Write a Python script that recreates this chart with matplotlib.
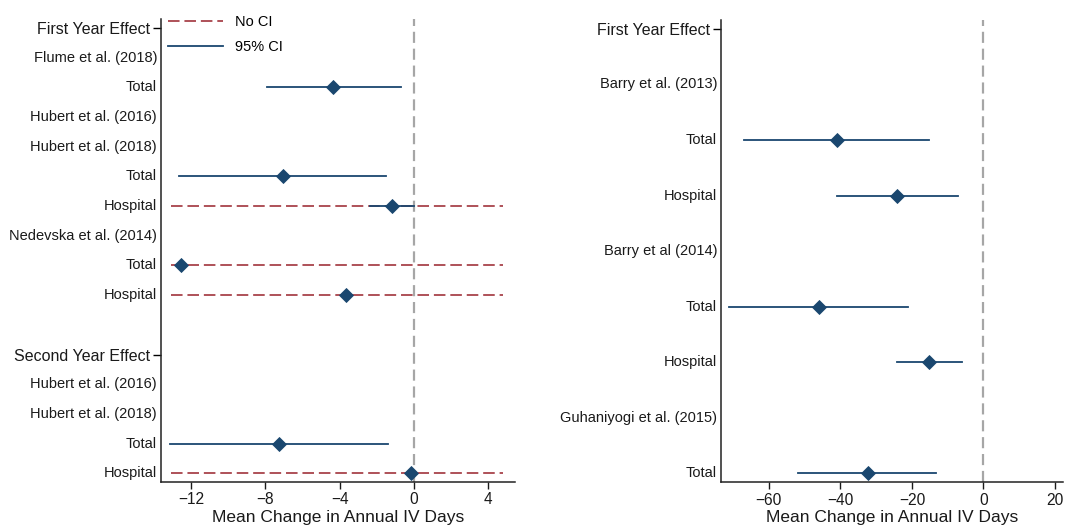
import numpy as np
import matplotlib
matplotlib.use("Agg")
import matplotlib.pyplot as plt
from matplotlib.lines import Line2D
import matplotlib.transforms as mtransforms

plt.rcParams['font.family'] = ['Liberation Sans', 'DejaVu Sans']

nan = np.nan

# ---- Left panel: short follow-up studies ----
left_labels = ["First Year Effect", "Flume et al. (2018)", "Total",
               "Hubert et al. (2016)", "Hubert et al. (2018)", "Total", "Hospital",
               "Nedevska et al. (2014)", "Total", "Hospital", "",
               "Second Year Effect", "Hubert et al. (2016)", "Hubert et al. (2018)",
               "Total", "Hospital"]
left_headers = [0, 11]
left_est = [nan, nan, -4.35, nan, nan, -7.07, -1.18, nan, -12.57, -3.66,
            nan, nan, nan, nan, -7.25, -0.18]
left_lo = [nan, nan, -7.93, nan, nan, -12.64, -2.37, nan, nan, nan,
           nan, nan, nan, nan, -13.14, nan]
left_hi = [nan, nan, -0.70, nan, nan, -1.51, 0.0, nan, nan, nan,
           nan, nan, nan, nan, -1.38, nan]
left_noci = [False, False, False, False, False, False, True, False, True, True,
             False, False, False, False, False, True]
left_noci_span = (-13.1, 4.8)
left_xticks = [-12, -8, -4, 0, 4]

# ---- Right panel: longer follow-up studies ----
right_labels = ["First Year Effect", "Barry et al. (2013)", "Total", "Hospital",
                "Barry et al (2014)", "Total", "Hospital",
                "Guhaniyogi et al. (2015)", "Total"]
right_headers = [0]
right_est = [nan, nan, -41.0, -24.1, nan, -45.9, -15.1, nan, -32.3]
right_lo = [nan, nan, -66.8, -40.9, nan, -71.0, -24.1, nan, -51.7]
right_hi = [nan, nan, -15.1, -7.0, nan, -21.0, -6.1, nan, -13.3]
right_noci = [False] * 9
right_xticks = [-60, -40, -20, 0, 20]

NAVY = "#1a476f"
CRAN = "#a8434b"
REF = "#a6a6a6"
TXT = "#1a1a1a"
NOCI_DASH = (0, (6.4, 2.7))

fig = plt.figure(figsize=(10.67, 5.25), dpi=100)
W, H = 1067, 525


def make_axes(left_px, right_px, top_px, bottom_px):
    return fig.add_axes([left_px / W, 1 - bottom_px / H,
                         (right_px - left_px) / W, (bottom_px - top_px) / H])


def draw_panel(ax, labels, headers, est, lo, hi, noci, xlim, ylim, xticks,
               noci_span=None):
    n = len(labels)
    y = np.arange(n)
    ax.axvline(0, color=REF, lw=1.6, ls=(0, (5.0, 2.6)), zorder=1)
    for i in range(n):
        if noci[i] and noci_span is not None:
            ax.plot(noci_span, [y[i], y[i]], color=CRAN, lw=1.3,
                    ls=NOCI_DASH, zorder=2)
        if not np.isnan(lo[i]):
            ax.plot([lo[i], hi[i]], [y[i], y[i]], color=NAVY, lw=1.3, zorder=3)
        if not np.isnan(est[i]):
            ax.plot(est[i], y[i], marker="D", ms=7, color=NAVY, mec=NAVY,
                    mew=0.6, zorder=4, ls="none")
    ax.set_xlim(*xlim)
    ax.set_ylim(*ylim)
    ax.set_xticks(xticks)
    ax.tick_params(axis="x", labelsize=11.2, length=5, width=1, colors=TXT,
                   pad=2.5)
    ax.set_xlabel("Mean Change in Annual IV Days", fontsize=12.5, color=TXT,
                  labelpad=2)
    # headers carry a tick mark, other rows are plain labels
    ax.set_yticks([y[i] for i in headers])
    ax.set_yticklabels([labels[i] for i in headers], fontsize=11.5, color=TXT)
    ax.tick_params(axis="y", length=6, width=1, pad=1.5)
    trans = mtransforms.blended_transform_factory(ax.transAxes, ax.transData)
    off = mtransforms.ScaledTranslation(-4 / 100, 0, fig.dpi_scale_trans)
    for i in range(n):
        if i in headers or not labels[i]:
            continue
        ax.text(0, y[i], labels[i], transform=trans + off, ha="right",
                va="center", fontsize=10.5, color=TXT)
    for s in ("top", "right"):
        ax.spines[s].set_visible(False)
    for s in ("left", "bottom"):
        ax.spines[s].set_linewidth(1.1)
        ax.spines[s].set_color("#222222")


axL = make_axes(161, 515, 19, 481.7)
draw_panel(axL, left_labels, left_headers, left_est, left_lo, left_hi,
           left_noci, (-13.62, 5.44), (15.28, -0.3), left_xticks,
           noci_span=left_noci_span)

axR = make_axes(721, 1063, 20, 482.3)
draw_panel(axR, right_labels, right_headers, right_est, right_lo, right_hi,
           right_noci, (-73.3, 22.2), (8.16, -0.16), right_xticks)

handles = [Line2D([], [], color=CRAN, lw=1.3, ls=NOCI_DASH),
           Line2D([], [], color=NAVY, lw=1.3)]
axL.legend(handles, ["No CI", "95% CI"], loc="upper left",
           bbox_to_anchor=(168 / W, 1 - 15 / H),
           bbox_transform=fig.transFigure, frameon=False, fontsize=10.5,
           handlelength=3.8, handletextpad=0.8, labelspacing=0.75,
           borderpad=0, borderaxespad=0)

fig.savefig("out.png", dpi=100)
